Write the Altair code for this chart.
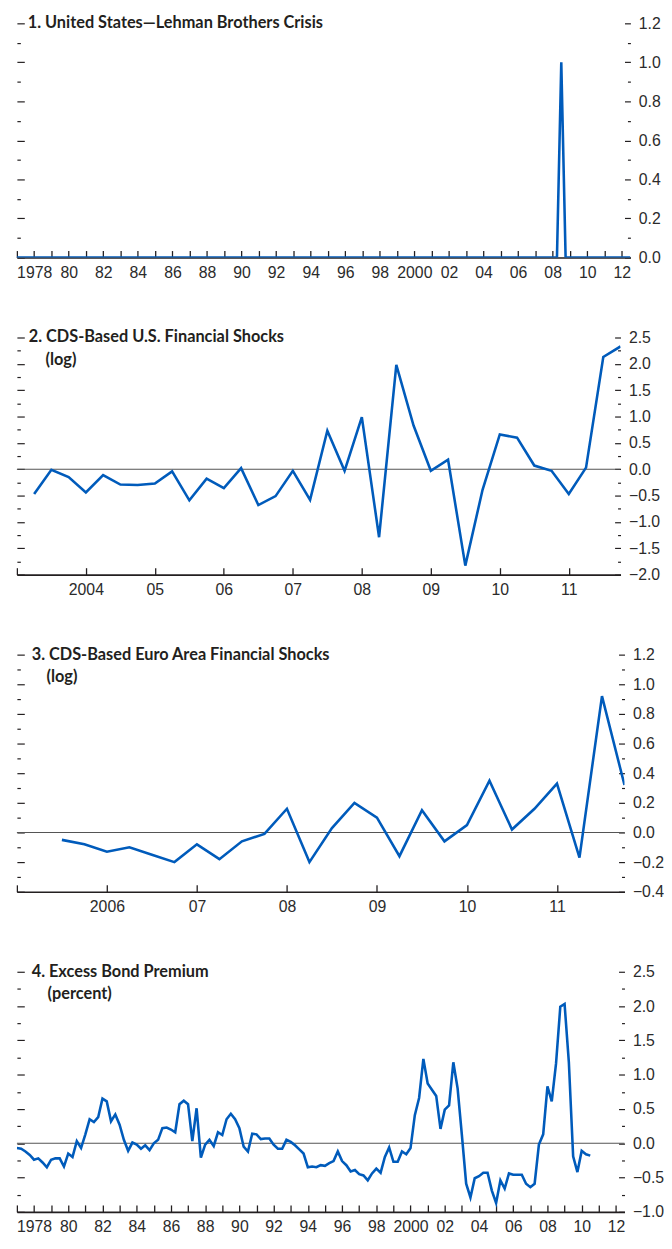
import json
import altair as alt
import pandas as pd

# ---------------- data ----------------
# Panel 1: Lehman dummy, quarterly 1977Q1 .. 2012Q3 (spike in 2008Q3)
lehman_start = 1977.0
lehman_values = [0] * 126 + [1] + [0] * 16

# Panel 2: CDS-based U.S. financial shocks (log), quarterly from 2003Q2
us_start = 2003.25
us_values = [-0.47, -0.01, -0.15, -0.44, -0.11, -0.29, -0.30, -0.27, -0.04, -0.59,
             -0.18, -0.36, 0.02, -0.68, -0.51, -0.03, -0.58, 0.73, -0.03, 0.99,
             -1.29, 1.98, 0.83, -0.03, 0.18, -1.83, -0.39, 0.66, 0.60, 0.07,
             -0.03, -0.47, 0.03, 2.13, 2.33]

# Panel 3: CDS-based euro area financial shocks (log), quarterly from 2005Q3
ea_start = 2005.5
ea_values = [-0.05, -0.08, -0.13, -0.10, -0.15, -0.20, -0.08, -0.18, -0.06, -0.01,
             0.16, -0.20, 0.03, 0.20, 0.10, -0.16, 0.15, -0.06, 0.05, 0.35,
             0.02, 0.16, 0.33, -0.17, 0.92, 0.32]

# Panel 4: Excess bond premium (percent), quarterly 1977Q1 .. 2010Q3
ebp_start = 1977.0
ebp_values = [
    -0.07, -0.08, -0.12, -0.17,   # 1977
    -0.24, -0.22, -0.28, -0.35,   # 1978
    -0.24, -0.22, -0.22, -0.34,   # 1979
    -0.15, -0.20, 0.03, -0.07,    # 1980
    0.13, 0.35, 0.31, 0.38,       # 1981
    0.65, 0.61, 0.32, 0.42,       # 1982
    0.27, 0.05, -0.11, 0.01,      # 1983
    -0.02, -0.08, -0.03, -0.10,   # 1984
    0.00, 0.05, 0.22, 0.23,       # 1985
    0.20, 0.16, 0.57, 0.62,       # 1986
    0.57, 0.03, 0.51, -0.21,      # 1987
    -0.02, 0.05, -0.04, 0.16,     # 1988
    0.12, 0.35, 0.43, 0.35,       # 1989
    0.22, -0.05, -0.12, 0.14,     # 1990
    0.13, 0.06, 0.07, 0.07,       # 1991
    -0.02, -0.08, -0.08, 0.05,    # 1992
    0.02, -0.03, -0.09, -0.15,    # 1993
    -0.35, -0.34, -0.35, -0.32,   # 1994
    -0.33, -0.29, -0.26, -0.12,   # 1995
    -0.26, -0.32, -0.41, -0.39,   # 1996
    -0.45, -0.47, -0.54, -0.44,   # 1997
    -0.37, -0.43, -0.20, -0.06,   # 1998
    -0.27, -0.27, -0.12, -0.16,   # 1999
    -0.07, 0.41, 0.66, 1.23,      # 2000
    0.87, 0.78, 0.69, 0.21,       # 2001
    0.49, 0.55, 1.18, 0.80,       # 2002
    0.12, -0.59, -0.79, -0.51,    # 2003
    -0.48, -0.43, -0.43, -0.69,   # 2004
    -0.87, -0.54, -0.66, -0.44,   # 2005
    -0.46, -0.46, -0.46, -0.59,   # 2006
    -0.64, -0.59, -0.02, 0.13,    # 2007
    0.83, 0.61, 1.16, 1.99,       # 2008
    2.03, 1.18, -0.19, -0.42,     # 2009
    -0.11, -0.16, -0.18,          # 2010
]

# ---------------- tick values and labels ----------------
long_years = [1977, 1978, 1979, 1980, 1981, 1982, 1983, 1984, 1985, 1986, 1987, 1988,
              1989, 1990, 1991, 1992, 1993, 1994, 1995, 1996, 1997, 1998, 1999, 2000,
              2001, 2002, 2003, 2004, 2005, 2006, 2007, 2008, 2009, 2010, 2011, 2012]
long_year_labels = ["", "1978", "", "80", "", "82", "", "84", "", "86", "", "88",
                    "", "90", "", "92", "", "94", "", "96", "", "98", "", "2000",
                    "", "02", "", "04", "", "06", "", "08", "", "10", "", "12"]
us_years = [2003, 2004, 2005, 2006, 2007, 2008, 2009, 2010, 2011]
us_year_labels = ["", "2004", "05", "06", "07", "08", "09", "10", "11"]
ea_years = [2005, 2006, 2007, 2008, 2009, 2010, 2011]
ea_year_labels = ["", "2006", "07", "08", "09", "10", "11"]

p1_yticks = [0.0, 0.1, 0.2, 0.3, 0.4, 0.5, 0.6, 0.7, 0.8, 0.9, 1.0, 1.1, 1.2]
p1_ylabels = ["0.0", "", "0.2", "", "0.4", "", "0.6", "", "0.8", "", "1.0", "", "1.2"]
p1_ymajor = [0.0, 0.2, 0.4, 0.6, 0.8, 1.0, 1.2]

p2_yticks = [-2.0, -1.75, -1.5, -1.25, -1.0, -0.75, -0.5, -0.25, 0.0, 0.25, 0.5,
             0.75, 1.0, 1.25, 1.5, 1.75, 2.0, 2.25, 2.5]
p2_ylabels = ["\u22122.0", "", "\u22121.5", "", "\u22121.0", "", "\u22120.5", "", "0.0",
              "", "0.5", "", "1.0", "", "1.5", "", "2.0", "", "2.5"]
p2_ymajor = [-2.0, -1.5, -1.0, -0.5, 0.0, 0.5, 1.0, 1.5, 2.0, 2.5]

p3_yticks = [-0.4, -0.3, -0.2, -0.1, 0.0, 0.1, 0.2, 0.3, 0.4, 0.5, 0.6, 0.7, 0.8,
             0.9, 1.0, 1.1, 1.2]
p3_ylabels = ["\u22120.4", "", "\u22120.2", "", "0.0", "", "0.2", "", "0.4", "", "0.6",
              "", "0.8", "", "1.0", "", "1.2"]
p3_ymajor = [-0.4, -0.2, 0.0, 0.2, 0.4, 0.6, 0.8, 1.0, 1.2]

p4_yticks = [-1.0, -0.75, -0.5, -0.25, 0.0, 0.25, 0.5, 0.75, 1.0, 1.25, 1.5, 1.75,
             2.0, 2.25, 2.5]
p4_ylabels = ["\u22121.0", "", "\u22120.5", "", "0.0", "", "0.5", "", "1.0", "", "1.5",
              "", "2.0", "", "2.5"]
p4_ymajor = [-1.0, -0.5, 0.0, 0.5, 1.0, 1.5, 2.0, 2.5]

titles = [
    ["1. United States\u2014Lehman Brothers Crisis"],
    ["2. CDS-Based U.S. Financial Shocks", "(log)"],
    ["3. CDS-Based Euro Area Financial Shocks", "(log)"],
    ["4. Excess Bond Premium", "(percent)"],
]

# ---------------- styling ----------------
BLUE = "#005bbb"
INK = "#231f20"
LABEL_FONT = "Liberation Sans"
TITLE_FONT = "Lato"


def js(v):
    return json.dumps(v, ensure_ascii=False)


def label_expr(values, labels):
    return f"{js(labels)}[indexof({js(values)}, datum.value)]"


def quarters(start, n):
    return [start + 0.25 * i for i in range(n)]


def panel(start, values, xdom, xticks, xlabels, ydom, yticks, ylabels, ymajor,
          width, height, title_lines, tx, tx2):
    df = pd.DataFrame({"t": quarters(start, len(values)), "v": values})
    major_test = f"indexof({js(ymajor)}, datum.value) >= 0"
    yscale = alt.Scale(domain=ydom, nice=False, zero=False)
    xscale = alt.Scale(domain=xdom, nice=False, zero=False)

    line = alt.Chart(df).mark_line(color=BLUE, strokeWidth=2.6, clip=True).encode(
        x=alt.X("t:Q", scale=xscale, title=None,
                axis=alt.Axis(orient="bottom", values=xticks,
                              labelExpr=label_expr(xticks, xlabels),
                              tickSize={"expr": "-7"}, tickColor=INK, tickWidth=1.3,
                              domainColor=INK, domainWidth=1.6,
                              labelPadding=14, labelFlush=False, labelOverlap=False,
                              grid=False)),
        y=alt.Y("v:Q", scale=yscale, title=None,
                axis=alt.Axis(orient="right", values=yticks,
                              labelExpr=label_expr(yticks, ylabels),
                              tickSize={"condition": {"test": major_test, "value": -6},
                                        "value": -3},
                              tickColor=INK, tickWidth=1.2, domain=False,
                              labelPadding=14, labelAlign="left", labelBaseline="middle",
                              labelFlush=False, labelOverlap=False, grid=False)),
    )

    zero = alt.Chart(pd.DataFrame({"z": [0]})).mark_rule(color="#555555", strokeWidth=1.1).encode(
        y=alt.Y("z:Q", scale=yscale, title=None,
                axis=alt.Axis(orient="left", values=yticks, labels=False, domain=False,
                              tickSize={"condition": {"test": major_test, "value": -7.5},
                                        "value": -3.5},
                              tickColor=INK, tickWidth=1.2, grid=False)),
    )

    layers = [zero, line]
    offsets = [(tx, 0), (tx2, 23)]
    for txt, (px, py) in zip(title_lines, offsets):
        layers.append(
            alt.Chart(pd.DataFrame({"txt": [txt]})).mark_text(
                align="left", baseline="middle", font=TITLE_FONT, fontWeight="bold",
                fontSize=16.5, color=INK
            ).encode(x=alt.value(px), y=alt.value(py), text="txt:N")
        )
    return alt.layer(*layers).resolve_axis(y="independent").properties(
        width=width, height=height)


p1 = panel(lehman_start, lehman_values, [1977, 2012.5], long_years, long_year_labels,
           [0, 1.2], p1_yticks, p1_ylabels, p1_ymajor, 621, 237, titles[0], 11, 28)
p2 = panel(us_start, us_values, [2003, 2011.75], us_years, us_year_labels,
           [-2.0, 2.5], p2_yticks, p2_ylabels, p2_ymajor, 611, 240, titles[1], 12, 29)
p3 = panel(ea_start, ea_values, [2005, 2011.75], ea_years, ea_year_labels,
           [-0.4, 1.2], p3_yticks, p3_ylabels, p3_ymajor, 615, 240, titles[2], 15, 30)
p4 = panel(ebp_start, ebp_values, [1977, 2012.5], long_years, long_year_labels,
           [-1.0, 2.5], p4_yticks, p4_ylabels, p4_ymajor, 615, 243, titles[3], 15, 31)

chart = alt.vconcat(p1, p2, p3, p4, spacing=81, bounds="flush").properties(
    padding={"left": 8, "top": 0, "right": 0, "bottom": 0}
).configure_view(stroke=None).configure_axis(
    labelFont=LABEL_FONT, labelFontSize=16, labelColor="#2b2b2b"
)

chart.save("out.html", embed_options={"renderer": "svg", "actions": False})
